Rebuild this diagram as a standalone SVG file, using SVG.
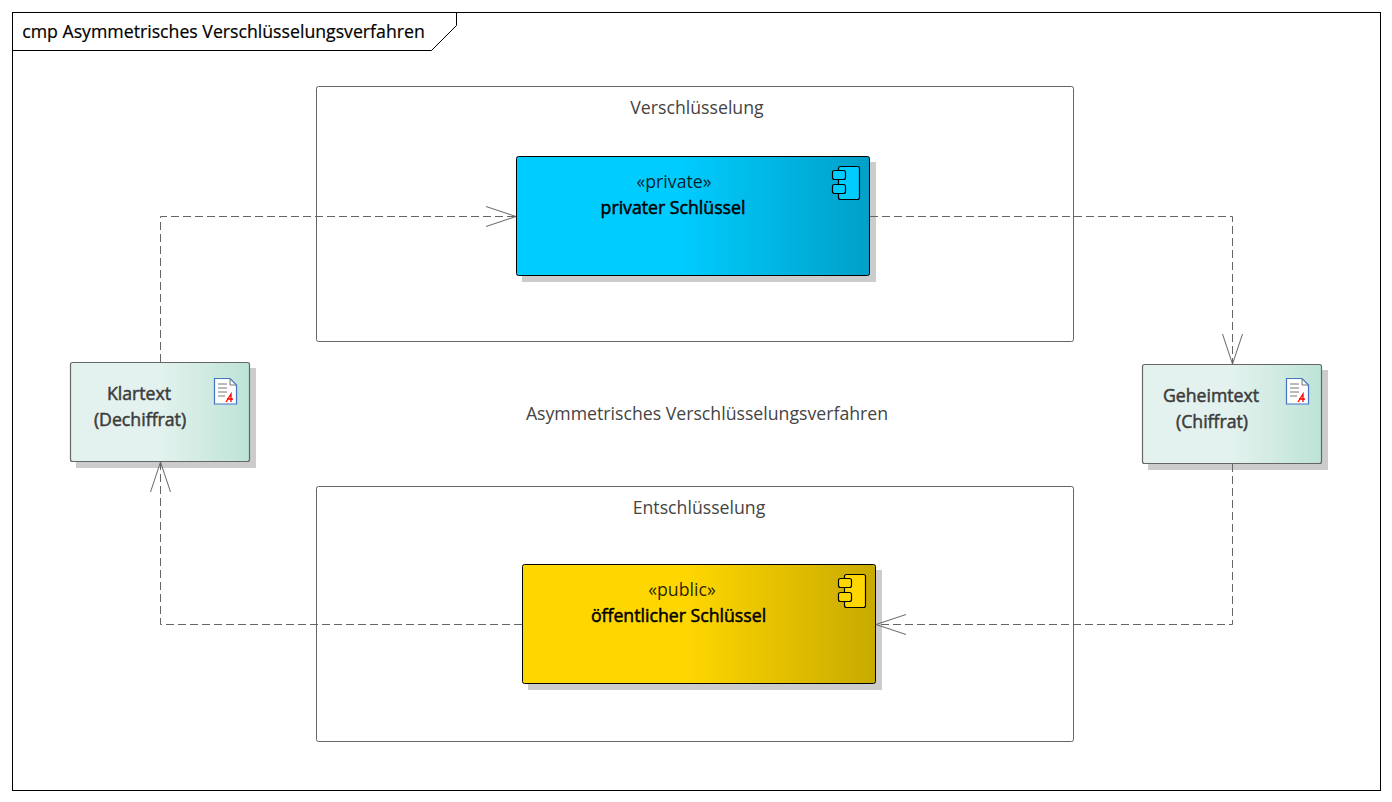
<svg xmlns="http://www.w3.org/2000/svg" width="1392" height="802" viewBox="0 0 1392 802">
<style>
text{font-family:"Open Sans","Noto Sans","Liberation Sans",sans-serif;font-size:17.7px;text-anchor:middle}
.t{fill:#444}
.ti{fill:#000;font-weight:500;stroke:#000;stroke-width:.2}
.b{fill:#000;font-weight:500;stroke:#000;stroke-width:.5}
.d{fill:#3c3c3c;font-weight:500;stroke:#3c3c3c;stroke-width:.5}
.s{fill:#000;fill-opacity:.85}
.box{fill:#fff;stroke:#666;stroke-width:1}
.sh{fill:#ccc}
.con{fill:none;stroke:#666;stroke-width:1;stroke-dasharray:8 4}
.arr{fill:none;stroke:#666;stroke-width:1}
.ic{stroke:#000;stroke-width:1.2}
.doc{fill:#fff;stroke:#4472c4;stroke-width:1.2}
.ln{stroke:#777;stroke-width:1;fill:none}
.red{fill:none;stroke:#f00;stroke-width:1.3}
</style>
<defs>
<linearGradient id="gb"><stop offset="0" stop-color="#00ccff"/><stop offset=".46" stop-color="#00ccff"/><stop offset="1" stop-color="#00a0c8"/></linearGradient>
<linearGradient id="gy"><stop offset="0" stop-color="#ffd700"/><stop offset=".46" stop-color="#ffd700"/><stop offset="1" stop-color="#c8aa00"/></linearGradient>
<linearGradient id="gg"><stop offset="0" stop-color="#e3f2ee"/><stop offset=".5" stop-color="#e3f2ee"/><stop offset="1" stop-color="#bde3d7"/></linearGradient>
</defs>
<rect width="1392" height="802" fill="#fff"/>
<g id="frame">
<rect x="12.5" y="12.5" width="1368" height="778" fill="#fff" stroke="#000"/>
<path d="M12.5 50.5H431.5L456.5 25.5V12.5" fill="none" stroke="#000"/>
<text class="ti" x="223.500" y="38">cmp Asymmetrisches Verschlüsselungsverfahren</text>
</g>
<text id="caption" class="t" x="707" y="420">Asymmetrisches Verschlüsselungsverfahren</text>
<g id="verschluesselung">
<rect class="box" x="316.500" y="86.500" width="757" height="255" rx="2"/>
<text class="t" x="697" y="114">Verschlüsselung</text>
</g>
<g id="entschluesselung">
<rect class="box" x="316.500" y="486.500" width="757" height="255" rx="2"/>
<text class="t" x="699" y="514">Entschlüsselung</text>
</g>
<g id="private-key">
<rect class="sh" x="522" y="162" width="354" height="120"/>
<rect x="516.500" y="156.500" width="353" height="119" rx="2" fill="url(#gb)" stroke="#000"/>
<rect class="ic" x="838.500" y="166.500" width="21" height="33" rx="2" fill="#00ccff"/>
<rect class="ic" x="832.500" y="170.500" width="13" height="9" rx="2" fill="#00ccff"/>
<rect class="ic" x="832.500" y="184.500" width="13" height="9" rx="2" fill="#00ccff"/>
<text class="s" x="674" y="188">«private»</text>
<text class="b" x="673" y="214">privater Schlüssel</text>
</g>
<g id="public-key">
<rect class="sh" x="528" y="570" width="354" height="120"/>
<rect x="522.500" y="564.500" width="353" height="119" rx="2" fill="url(#gy)" stroke="#000"/>
<rect class="ic" x="844.500" y="574.500" width="21" height="33" rx="2" fill="#ffd700"/>
<rect class="ic" x="838.500" y="578.500" width="13" height="9" rx="2" fill="#ffd700"/>
<rect class="ic" x="838.500" y="592.500" width="13" height="9" rx="2" fill="#ffd700"/>
<text class="s" x="682" y="596">«public»</text>
<text class="b" x="678.500" y="622">öffentlicher Schlüssel</text>
</g>
<g id="klartext">
<rect class="sh" x="76" y="368" width="180" height="100"/>
<rect x="70.500" y="362.500" width="179" height="99" rx="2" fill="url(#gg)" stroke="#666" stroke-width="1.200"/>
<path class="doc" d="M214.500 378.500H230L236.500 385V404H214.500Z"/>
<path class="ln" d="M230 378.500V385H236.500M218 384H227M218 388H227M218 392H227M218 396H225"/>
<path class="red" d="M226 402L231 394V402M227 399H233"/>
<text class="d" x="139" y="400">Klartext</text>
<text class="d" x="140" y="426">(Dechiffrat)</text>
</g>
<g id="geheimtext">
<rect class="sh" x="1148" y="370" width="180" height="100"/>
<rect x="1142.500" y="364.500" width="179" height="99" rx="2" fill="url(#gg)" stroke="#666" stroke-width="1.200"/>
<path class="doc" d="M1286.500 378.500H1302L1308.500 385V404H1286.500Z"/>
<path class="ln" d="M1302 378.500V385H1308.500M1290 384H1299M1290 388H1299M1290 392H1299M1290 396H1297"/>
<path class="red" d="M1298 402L1303 394V402M1299 399H1305"/>
<text class="d" x="1211" y="402">Geheimtext</text>
<text class="d" x="1212" y="428">(Chiffrat)</text>
</g>
<g id="connectors">
<path class="con" d="M160.500 362V216.500H516"/>
<path class="arr" d="M486 206.500L516 216.500L486 226.500"/>
<path class="con" d="M870 216.500H1232.500V364"/>
<path class="arr" d="M1222.500 334L1232.500 364L1242.500 334"/>
<path class="con" d="M1232.500 464V624.500H876"/>
<path class="arr" d="M906 614.500L876 624.500L906 634.500"/>
<path class="con" d="M522 624.500H160.500V462"/>
<path class="arr" d="M150.500 492L160.500 462L170.500 492"/>
</g>
</svg>
